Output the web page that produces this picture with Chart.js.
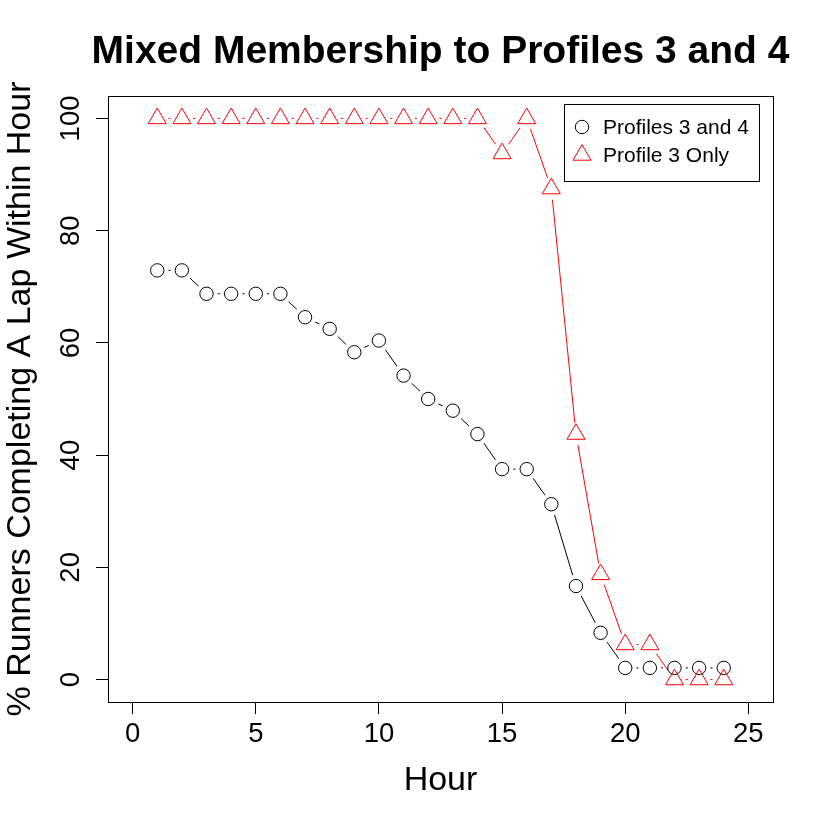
<!DOCTYPE html>
<html>
<head>
<meta charset="utf-8">
<script src="https://cdn.jsdelivr.net/npm/chart.js@4/dist/chart.umd.min.js"></script>
<style>
  html, body { margin: 0; padding: 0; background: #fff; }
  #wrap { width: 822px; height: 822px; }
</style>
</head>
<body>
<div id="wrap"><canvas id="mainChart" width="822" height="822"></canvas></div>
<script>
// datos
const hours = [1,2,3,4,5,6,7,8,9,10,11,12,13,14,15,16,17,18,19,20,21,22,23,24];
const profiles34 = [72.92,72.92,68.75,68.75,68.75,68.75,64.58,62.5,58.33,60.42,54.17,50,
                    47.92,43.75,37.5,37.5,31.25,16.67,8.33,2.08,2.08,2.08,2.08,2.08];
const profile3 = [100,100,100,100,100,100,100,100,100,100,100,100,100,100,
                  93.75,100,87.5,43.75,18.75,6.25,6.25,0,0,0];
const xTicks = [0,5,10,15,20,25];
const yTicks = [0,20,40,60,80,100];
const seriesLabels = ['Profiles 3 and 4', 'Profile 3 Only'];
const chartTitle = 'Mixed Membership to Profiles 3 and 4';

const FONT = '"Liberation Sans", Arial, Helvetica, sans-serif';
Chart.defaults.font.family = FONT;
Chart.defaults.color = '#000';

const pts = (ys) => hours.map((h, i) => ({x: h, y: ys[i]}));

// recorta la linea alrededor de cada punto (como type="b" en R)
const gapPlugin = {
  id: 'gapLines',
  beforeDatasetDraw(chart, args) {
    const ds = chart.data.datasets[args.index];
    if (!ds.gapRadius) return;
    const ctx = chart.ctx;
    ctx.save();
    ctx.beginPath();
    ctx.rect(0, 0, chart.width, chart.height);
    args.meta.data.forEach(el => {
      ctx.moveTo(el.x + ds.gapRadius, el.y);
      ctx.arc(el.x, el.y, ds.gapRadius, 0, Math.PI * 2, true);
    });
    ctx.clip();
  },
  afterDatasetDraw(chart, args) {
    const ds = chart.data.datasets[args.index];
    if (ds.gapRadius) chart.ctx.restore();
  }
};

// titulo, caja del grafico y leyenda
const boxPlugin = {
  id: 'boxLegend',
  afterDraw(chart) {
    const {ctx, chartArea: a} = chart;
    ctx.save();
    ctx.fillStyle = '#000';
    ctx.font = 'bold 39px ' + FONT;
    ctx.textAlign = 'center';
    ctx.textBaseline = 'alphabetic';
    ctx.fillText(chartTitle, (a.left + a.right) / 2, 63);

    ctx.strokeStyle = '#000';
    ctx.lineWidth = 1;
    ctx.strokeRect(a.left + 0.5, a.top + 0.5, a.right - a.left, a.bottom - a.top);

    const lw = 195, lh = 77;
    const lx = a.right - 14 - lw, ly = a.top + 8;
    ctx.strokeRect(lx + 0.5, ly + 0.5, lw, lh);
    const pointSets = chart.data.datasets.filter(d => d.legendRow !== undefined);
    pointSets.forEach(d => {
      const cy = ly + 23 + d.legendRow * 28;
      ctx.fillStyle = 'rgba(0,0,0,0)';
      ctx.strokeStyle = d.pointBorderColor;
      ctx.lineWidth = 1;
      Chart.helpers.drawPoint(ctx, {
        pointStyle: d.pointStyle, radius: d.pointRadius, borderWidth: 1, rotation: 0
      }, lx + 18, cy);
      ctx.font = '21px ' + FONT;
      ctx.textBaseline = 'middle';
      ctx.textAlign = 'left';
      ctx.fillStyle = '#000';
      ctx.fillText(d.label, lx + 39, cy + 1);
    });
    ctx.restore();
  }
};

const axisCommon = {
  type: 'linear',
  border: { display: false },
  grid: { display: true, drawOnChartArea: false, drawTicks: true, tickLength: 12, color: '#000', lineWidth: 1 }
};

const config = {
  type: 'line',
  data: {
    datasets: [
      { label: seriesLabels[0], data: pts(profiles34), borderColor: '#000', borderWidth: 1,
        pointRadius: 0, showLine: true, gapRadius: 11.3, order: 4 },
      { label: seriesLabels[1], data: pts(profile3), borderColor: '#ff0000', borderWidth: 1,
        pointRadius: 0, showLine: true, gapRadius: 11.3, order: 3 },
      { label: seriesLabels[0], data: pts(profiles34), showLine: false, pointStyle: 'circle',
        pointRadius: 6.7, borderColor: '#000', pointBorderColor: '#000', pointBackgroundColor: 'rgba(0,0,0,0)',
        pointBorderWidth: 1, legendRow: 0, order: 2 },
      { label: seriesLabels[1], data: pts(profile3), showLine: false, pointStyle: 'triangle',
        pointRadius: 10.4, borderColor: '#ff0000', pointBorderColor: '#ff0000', pointBackgroundColor: 'rgba(0,0,0,0)',
        pointBorderWidth: 1, legendRow: 1, order: 1 }
    ]
  },
  options: {
    responsive: false,
    animation: false,
    layout: { padding: { left: 0, right: 49, top: 96, bottom: 0 } },
    plugins: {
      legend: { display: false },
      tooltip: { enabled: false },
      title: { display: false }
    },
    scales: {
      x: Object.assign({}, axisCommon, {
        min: -1, max: 26,
        afterBuildTicks: s => { s.ticks = xTicks.map(v => ({value: v})); },
        afterFit: s => { s.height = 120; },
        ticks: { font: { size: 27.5 }, padding: 4, maxRotation: 0, minRotation: 0, autoSkip: false },
        title: { display: true, text: 'Hour', font: { size: 34 }, padding: { top: 0, bottom: 21 } }
      }),
      y: Object.assign({}, axisCommon, {
        min: -4, max: 104,
        afterBuildTicks: s => { s.ticks = yTicks.map(v => ({value: v})); },
        afterFit: s => { s.width = 108; },
        ticks: { font: { size: 27.5 }, padding: 2, minRotation: 90, maxRotation: 90, crossAlign: 'center', autoSkip: false },
        title: { display: true, text: '% Runners Completing A Lap Within Hour', font: { size: 34 }, padding: { top: 0, bottom: 0 } }
      })
    }
  },
  plugins: [gapPlugin, boxPlugin]
};

const chart = new Chart(document.getElementById('mainChart').getContext('2d'), config);
</script>
</body>
</html>
